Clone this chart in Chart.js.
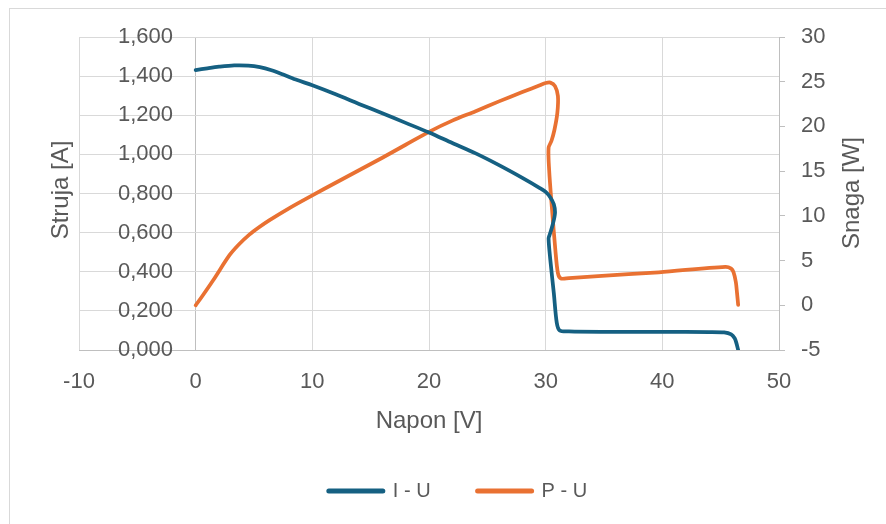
<!DOCTYPE html>
<html><head><meta charset="utf-8">
<script src="https://cdn.jsdelivr.net/npm/chart.js@4.4.1/dist/chart.umd.min.js"></script>
<style>
html,body{margin:0;padding:0;background:#fff;overflow:hidden;width:886px;height:524px;}
#frame{position:absolute;left:9px;top:8px;width:1000px;height:1000px;border:1px solid #d9d9d9;}
#c{position:absolute;left:0;top:0;}
</style></head><body>
<div id="frame"></div>
<canvas id="c" width="886" height="524"></canvas>
<script>
// I - U series
const iuVoltage = [0, 1, 2, 3.3, 4.5, 5.5, 6.5, 7.5, 8.7, 10, 12, 14, 16, 18, 20, 22, 24, 26, 28, 29.5, 30.0, 30.4, 30.7, 30.8, 30.6, 30.35, 30.25, 30.4, 30.7, 30.95, 31.2, 32, 35, 40, 44, 45.3, 45.9, 46.2, 46.35, 46.5];
const iuCurrent = [1.431, 1.440, 1.448, 1.455, 1.454, 1.446, 1.430, 1.408, 1.380, 1.353, 1.307, 1.258, 1.210, 1.161, 1.112, 1.058, 1.005, 0.945, 0.880, 0.828, 0.808, 0.780, 0.745, 0.700, 0.640, 0.590, 0.570, 0.460, 0.290, 0.140, 0.100, 0.095, 0.093, 0.093, 0.092, 0.090, 0.080, 0.060, 0.035, 0.000];
// P - U series
const puVoltage = [0, 0.5, 1.5, 2.9, 3.7, 4.6, 5.4, 6.3, 8.0, 10, 12, 14, 16, 18, 20, 22, 24, 26, 28, 29.5, 30.0, 30.4, 30.8, 31.05, 31.0, 30.75, 30.5, 30.25, 30.3, 30.55, 30.83, 31.05, 31.3, 32, 34.5, 39.7, 45.4, 45.9, 46.1, 46.3, 46.4, 46.5];
const puPower = [0, 0.9, 2.8, 5.6, 6.8, 7.9, 8.7, 9.5, 10.85, 12.3, 13.7, 15.1, 16.5, 17.95, 19.4, 20.65, 21.7, 22.8, 23.85, 24.6, 24.85, 24.9, 24.5, 23.4, 21.5, 19.6, 18.4, 17.6, 15.1, 10.65, 6.2, 3.6, 3.0, 3.05, 3.27, 3.69, 4.3, 4.1, 3.7, 2.6, 1.4, 0.05];

const seriesNames = ['I - U', 'P - U'];
const axisTitles = {x: 'Napon [V]', y: 'Struja [A]', y1: 'Snaga [W]'};
const xRange = [-10, 50, 10];
const yRange = [0, 1.6, 0.2];
const y1Range = [-5, 30, 5];

const TEXT = '#595959';
const GRID = '#d9d9d9';
const AXIS = '#bfbfbf';
const FONT = '"Liberation Sans", Arial, sans-serif';
Chart.defaults.font.family = FONT;
Chart.defaults.color = TEXT;

const toPts = (xs, ys) => xs.map((v, i) => ({x: v, y: ys[i]}));

const sideTitles = {
  id: 'sideTitles',
  afterDraw(chart) {
    const ctx = chart.ctx;
    ctx.save();
    ctx.fillStyle = TEXT;
    ctx.font = '24px ' + FONT;
    ctx.textAlign = 'center';
    ctx.textBaseline = 'middle';
    [[axisTitles.y, 61, 190], [axisTitles.y1, 852, 193]].forEach(([t, x, y]) => {
      ctx.save();
      ctx.translate(x, y);
      ctx.rotate(-Math.PI / 2);
      ctx.fillText(t, 0, 0);
      ctx.restore();
    });
    ctx.restore();
  }
};

new Chart(document.getElementById('c'), {
  type: 'scatter',
  data: {
    datasets: [
      {label: seriesNames[0], data: toPts(iuVoltage, iuCurrent), yAxisID: 'y',
       borderColor: '#156082', backgroundColor: '#156082', borderWidth: 3.75,
       showLine: true, pointRadius: 0, tension: 0.3, borderCapStyle: 'round', borderJoinStyle: 'round'},
      {label: seriesNames[1], data: toPts(puVoltage, puPower), yAxisID: 'y1',
       borderColor: '#E97132', backgroundColor: '#E97132', borderWidth: 3.75,
       showLine: true, pointRadius: 0, tension: 0.3, borderCapStyle: 'round', borderJoinStyle: 'round'}
    ]
  },
  options: {
    responsive: false,
    animation: false,
    layout: {padding: {left: 79, right: 49, top: 37, bottom: 13}},
    plugins: {
      tooltip: {enabled: false},
      legend: {
        position: 'bottom',
        labels: {
          usePointStyle: true, pointStyle: 'line', pointStyleWidth: 54, padding: 47,
          color: TEXT, font: {size: 20},
          generateLabels(chart) {
            const items = Chart.defaults.plugins.legend.labels.generateLabels(chart);
            items.forEach(it => { it.lineWidth = 5; it.lineCap = 'round'; });
            return items;
          }
        }
      }
    },
    scales: {
      x: {
        type: 'linear', position: 'bottom', min: xRange[0], max: xRange[1],
        ticks: {stepSize: xRange[2], padding: 19, color: TEXT, font: {size: 22}},
        grid: {color: c => (c.tick && c.tick.value === 0) ? AXIS : GRID, drawTicks: false},
        border: {color: AXIS},
        title: {display: true, text: axisTitles.x, color: TEXT, font: {size: 24}, padding: {top: 0, bottom: -2}},
        afterFit(s) { s.height = 84; }
      },
      y: {
        axis: 'y', type: 'linear', position: {x: -1.94}, min: yRange[0], max: yRange[1],
        ticks: {stepSize: yRange[2], padding: 0, color: TEXT, font: {size: 22},
                callback: v => v.toFixed(3).replace('.', ',')},
        grid: {color: c => (c.tick && Math.abs(c.tick.value) < 1e-9) ? AXIS : GRID, drawTicks: false},
        border: {display: false}
      },
      y1: {
        type: 'linear', position: 'right', min: y1Range[0], max: y1Range[1],
        ticks: {stepSize: y1Range[2], padding: 16, color: TEXT, font: {size: 22}},
        grid: {drawOnChartArea: false, drawTicks: true, tickLength: 6, tickColor: AXIS, color: AXIS},
        border: {color: AXIS},
        afterFit(s) { s.width = 58; }
      }
    }
  },
  plugins: [sideTitles]
});
</script>
</body></html>
